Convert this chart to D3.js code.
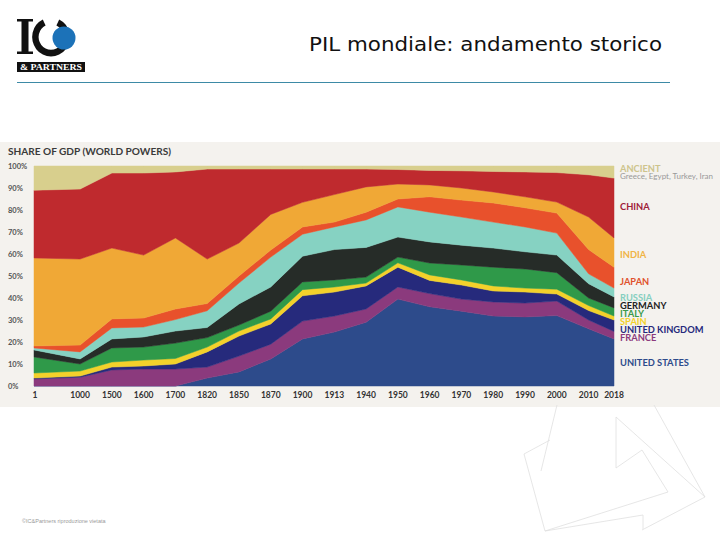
<!DOCTYPE html>
<html><head><meta charset="utf-8">
<script src="https://cdn.jsdelivr.net/npm/d3@7"></script>
<style>html,body{margin:0;padding:0;background:#fff;}svg{display:block;}</style>
</head><body>
<script>
// ---------- DATA ----------
const years = ["1","1000","1500","1600","1700","1820","1850","1870","1900","1913","1940","1950","1960","1970","1980","1990","2000","2010","2018"];
const yTicks = [0,10,20,30,40,50,60,70,80,90,100];
const unitedStates  = [0,0,0,0,0,3.6,6.4,12.3,21.4,24.5,29.0,39.5,36.0,34.0,31.8,31.4,32.0,26.0,21.4];
const france        = [3.2,4.0,7.3,7.7,7.7,5.0,7.2,6.7,8.1,7.3,6.0,5.5,6.0,5.5,6.4,6.3,6.6,4.0,3.4];
const unitedKingdom = [0.4,0.5,1.3,1.4,2.3,6.9,9.1,9.2,11.5,10.9,10.5,9.0,6.0,6.4,5.0,5.0,3.2,4.3,5.2];
const spain         = [2.3,2.3,2.3,2.7,2.5,2.2,2.3,2.3,2.8,2.3,1.3,2.0,2.5,2.3,2.3,1.8,2.2,2.3,1.8];
const italy         = [7.3,3.2,6.4,5.9,7.0,4.3,2.7,3.5,3.5,3.2,2.7,2.6,5.4,6.8,8.5,8.7,7.5,3.4,3.7];
const germany       = [3.2,2.3,4.1,4.6,5.5,4.6,9.6,11.0,11.7,13.8,13.5,9.1,9.6,9.0,8.7,7.8,8.0,6.5,5.0];
const russia        = [0.9,3.2,5.0,4.5,5.2,7.6,9.5,13.6,10.0,10.3,12.5,13.7,13.5,12.8,11.8,11.3,10.0,4.5,4.0];
const japan         = [0.9,3.1,4.1,4.1,4.8,3.3,3.2,3.2,3.3,2.2,3.5,3.6,7.0,7.7,8.7,8.7,9.1,11.0,9.5];
const india         = [40.0,39.1,32.2,28.6,32.3,20.2,15.0,16.2,11.2,12.5,11.5,6.8,5.4,5.5,5.0,5.0,5.0,14.8,13.3];
const china         = [30.8,31.8,34.1,37.3,30.0,40.9,33.6,20.6,15.1,11.6,8.1,6.6,6.6,7.8,9.3,11.3,13.4,19.2,27.2];
const ancient       = [11.0,10.5,3.2,3.2,2.7,1.4,1.4,1.4,1.4,1.4,1.4,1.6,2.0,2.2,2.5,2.7,3.0,4.0,5.5];

const seriesNames = ["UNITED STATES","FRANCE","UNITED KINGDOM","SPAIN","ITALY","GERMANY","RUSSIA","JAPAN","INDIA","CHINA","ANCIENT"];
const seriesValues = [unitedStates,france,unitedKingdom,spain,italy,germany,russia,japan,india,china,ancient];
const fillColors = ["#2d4b8b","#8b3a7d","#262a7c","#f3d12b","#2f9949","#262c28","#86d2c2","#e8512c","#f0a836","#bf2a2e","#d8cf8d"];
const legendColors = ["#2d4b8b","#8b3a7d","#262a7c","#f3d12b","#3a9a4a","#222","#86cfc0","#e0512c","#f0b445","#9e2038","#cdc48c"];
const legendY = [362,337,329,321,313,305,297,281,254,206,168];

// ---------- SVG ----------
const W = 720, H = 540;
const svg = d3.select("body").append("svg").attr("width", W).attr("height", H);

// header logo (graphic)
const logo = svg.append("g");
logo.append("path").attr("d","M17,19 H33 V21.5 H28.5 V51.5 H33 V54 H17 V51.5 H21.5 V21.5 H17 Z").attr("fill","#111");
logo.append("path").attr("d", d3.arc()({innerRadius:13.5, outerRadius:20.5, startAngle:0.45, endAngle:2*Math.PI-0.45}))
  .attr("transform","translate(51,37) scale(0.92,0.95)").attr("fill","#111");
logo.append("circle").attr("cx",64).attr("cy",38).attr("r",11.5).attr("fill","#1c72b8");
logo.append("rect").attr("x",17).attr("y",62).attr("width",68).attr("height",10).attr("fill","#111");
logo.append("text").attr("x",51).attr("y",70).attr("text-anchor","middle").attr("font-family","Liberation Serif")
  .attr("font-weight","bold").attr("font-size",8).attr("fill","#fff").attr("textLength",62).attr("lengthAdjust","spacingAndGlyphs").text("& PARTNERS");

svg.append("text").attr("x",309).attr("y",51).attr("font-family","DejaVu Sans").attr("font-size",19).attr("fill","#111")
  .attr("textLength",353).attr("lengthAdjust","spacingAndGlyphs").text("PIL mondiale: andamento storico");
svg.append("line").attr("x1",17).attr("x2",670).attr("y1",82.5).attr("y2",82.5).attr("stroke","#3d8aa6").attr("stroke-width",1);

// chart panel
svg.append("rect").attr("x",0).attr("y",142).attr("width",720).attr("height",265).attr("fill","#f4f2ee");
svg.append("text").attr("x",8).attr("y",155).attr("font-family","Lato").attr("font-weight","bold").attr("font-size",9.5)
  .attr("fill","#3a3a3a").attr("textLength",163).attr("lengthAdjust","spacingAndGlyphs").text("SHARE OF GDP (WORLD POWERS)");

// scales
const slot = years.map((d,i) => i === 0 ? 0 : (i === years.length-1 ? i + 0.25 : i + 0.45));
const x = d3.scaleLinear().domain([0, d3.max(slot)]).range([34, 614]);
const y = d3.scaleLinear().domain([0, 100]).range([386, 166]);

const table = years.map((yr,i) => {
  const row = {year: yr, idx: i};
  seriesNames.forEach((n,k) => row[n] = seriesValues[k][i]);
  return row;
});
const stack = d3.stack().keys(seriesNames)(table);
const area = d3.area().x(d => x(slot[d.data.idx])).y0(d => y(d[0])).y1(d => y(d[1])).curve(d3.curveLinear);

svg.append("g").selectAll("path").data(stack).join("path")
  .attr("d", area).attr("fill", (d,i) => fillColors[i])
  .attr("stroke", (d,i) => fillColors[i]).attr("stroke-width",0.5);

// y axis labels
svg.append("g").selectAll("text").data(yTicks).join("text")
  .attr("x",8).attr("y", d => y(d) + 2.5).attr("font-family","Lato").attr("font-weight","bold").attr("font-size",7.5)
  .attr("fill","#555").text(d => d + "%");

// x axis labels
svg.append("g").selectAll("text").data(years).join("text")
  .attr("x",(d,i) => x(slot[i]) + (i===0 ? 1 : 0)).attr("y",398).attr("text-anchor","middle")
  .attr("font-family","Lato").attr("font-weight","bold").attr("font-size",8.5).attr("fill","#333").text(d => d);

// legend
svg.append("g").selectAll("text").data(seriesNames).join("text")
  .attr("x",620).attr("y",(d,i) => legendY[i] + 3.5).attr("font-family","Lato").attr("font-weight","bold")
  .attr("font-size",9.3).attr("fill",(d,i) => legendColors[i]).text(d => d);
svg.append("text").attr("x",620).attr("y",179).attr("font-family","Lato").attr("font-size",7).attr("fill","#999")
  .attr("textLength",93).attr("lengthAdjust","spacingAndGlyphs").text("Greece, Egypt, Turkey, Iran");

// decorative outline shape bottom right
const deco = [
  [[557,405],[541,471]],
  [[524,454],[550,440]],
  [[524,454],[545,531]],
  [[545,531],[643,515],[643,529]],
  [[616,417],[616,468],[642,450],[668,492],[545,531]],
  [[616,417],[705,497],[642,530]],
  [[654,405],[705,497]]
];
svg.append("g").selectAll("path").data(deco).join("path")
  .attr("d", d => d3.line()(d)).attr("fill","none").attr("stroke","#e0e0e0").attr("stroke-width",0.8);

svg.append("text").attr("x",22).attr("y",523).attr("font-family","Liberation Sans").attr("font-size",5.5).attr("fill","#9a9a9a")
  .text("©IC&Partners riproduzione vietata");
</script>
</body></html>
